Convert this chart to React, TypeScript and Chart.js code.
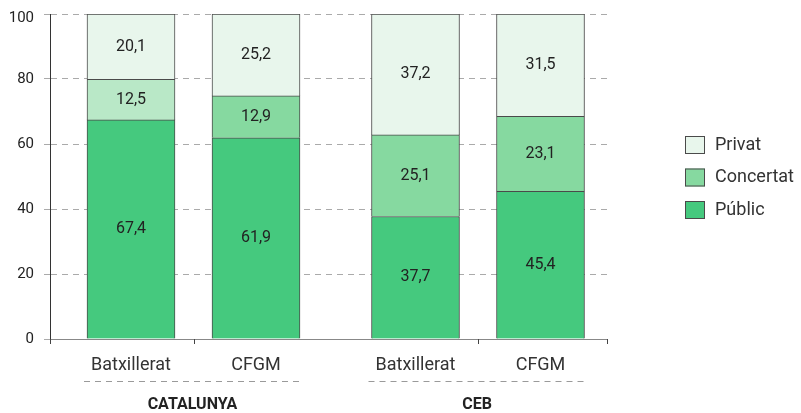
import React, { useEffect, useRef } from "react";
import { Chart, registerables } from "chart.js";
Chart.register(...registerables);

const groups = ["CATALUNYA", "CEB"];
const levels = ["Batxillerat", "CFGM"];
const seriesNames = ["Públic", "Concertat", "Privat"];
const publicValues = [67.4, 61.9, 37.7, 45.4];
const concertatValues = [12.5, 12.9, 25.1, 23.1];
const privatValues = [20.1, 25.2, 37.2, 31.5];
const yMin = 0;
const yMax = 100;
const yStep = 20;

const publicColor = "#45c97e";
const concertatColors = ["#b9e8c7", "#86d9a0", "#86d9a0", "#86d9a0"];
const privatColor = "#e8f6ec";
const borderCol = "#4a4a4a";

const GROUP_STEP = 2.276;
const X_PAD_LEFT = 0.648;
const X_PAD_RIGHT = 0.532;
const FONT = "Roboto, 'Noto Sans', sans-serif";

const bars = groups.flatMap((g, gi) =>
  levels.map((l, li) => ({ x: gi * GROUP_STEP + li, group: gi, level: l }))
);

const fmt = (v: number) => v.toFixed(1).replace(".", ",");

const overlayPlugin = {
  id: "overlay",
  afterDatasetsDraw(chart: any) {
    const ctx = chart.ctx;
    ctx.save();
    ctx.font = `16px ${FONT}`;
    ctx.fillStyle = "#222";
    ctx.textAlign = "center";
    ctx.textBaseline = "middle";
    chart.data.datasets.forEach((ds: any, di: number) => {
      const meta = chart.getDatasetMeta(di);
      meta.data.forEach((el: any, k: number) => {
        const v = ds.data[k].y;
        ctx.fillText(fmt(v), el.x, (el.y + el.base) / 2);
      });
    });
    ctx.restore();
  },
  afterDraw(chart: any) {
    const ctx = chart.ctx;
    const area = chart.chartArea;
    const xs = chart.scales.x;
    const ys = chart.scales.y;
    const meta = chart.getDatasetMeta(0);
    ctx.save();
    // y tick labels
    ctx.font = `15px ${FONT}`;
    ctx.fillStyle = "#222";
    ctx.textAlign = "right";
    ctx.textBaseline = "middle";
    ys.ticks.forEach((t: any) => {
      const py = ys.getPixelForValue(t.value);
      ctx.fillText(String(t.value), area.left - 16, Math.max(py, area.top + 4.5));
    });
    // x tick marks
    const tickXs = [area.left, area.right];
    groups.forEach((g, gi) => {
      const gb = bars.filter((b) => b.group === gi);
      const mid = gb.reduce((s, b) => s + b.x, 0) / gb.length;
      tickXs.push(xs.getPixelForValue(mid));
    });
    ctx.strokeStyle = "#444";
    ctx.lineWidth = 1;
    tickXs.forEach((tx) => {
      const px = Math.round(tx) + 0.5;
      ctx.beginPath();
      ctx.moveTo(px, area.bottom);
      ctx.lineTo(px, area.bottom + 5);
      ctx.stroke();
    });
    // group labels
    groups.forEach((g, gi) => {
      const els = bars
        .map((b, k) => ({ b, el: meta.data[k] }))
        .filter((o) => o.b.group === gi)
        .map((o) => o.el);
      const left = Math.min(...els.map((e: any) => e.x - e.width / 2)) - 3;
      const right = Math.max(...els.map((e: any) => e.x + e.width / 2)) + 1;
      const ly = Math.round(area.bottom + 42) + 0.5;
      ctx.strokeStyle = "#9a9a9a";
      ctx.setLineDash([6, 5]);
      ctx.beginPath();
      ctx.moveTo(left, ly);
      ctx.lineTo(right, ly);
      ctx.stroke();
      ctx.setLineDash([]);
      ctx.font = `bold 16px ${FONT}`;
      ctx.fillStyle = "#222";
      ctx.textAlign = "center";
      ctx.textBaseline = "middle";
      ctx.fillText(g, (left + right) / 2, area.bottom + 66);
    });
    // legend
    const legendItems = [
      { name: seriesNames[2], color: privatColor },
      { name: seriesNames[1], color: concertatColors[1] },
      { name: seriesNames[0], color: publicColor },
    ];
    const centerY = 177.5;
    const gap = 32.5;
    legendItems.forEach((it, i) => {
      const cy = centerY + (i - 1) * gap;
      ctx.fillStyle = it.color;
      ctx.fillRect(685, cy - 9, 20, 18);
      ctx.strokeStyle = borderCol;
      ctx.lineWidth = 1;
      ctx.strokeRect(685.5, cy - 8.5, 19, 17);
      ctx.fillStyle = "#333";
      ctx.font = `18px ${FONT}`;
      ctx.textAlign = "left";
      ctx.textBaseline = "middle";
      ctx.fillText(it.name, 715, cy);
    });
    ctx.restore();
  },
};

export default function App() {
  const ref = useRef<HTMLCanvasElement | null>(null);
  useEffect(() => {
    document.body.style.margin = "0";
    const mk = (vals: number[]) => vals.map((v, k) => ({ x: bars[k].x, y: v }));
    const chart = new Chart(ref.current as HTMLCanvasElement, {
      type: "bar",
      data: {
        datasets: [
          {
            label: seriesNames[0],
            data: mk(publicValues) as any,
            backgroundColor: publicColor,
            borderColor: borderCol,
            borderWidth: 1,
          },
          {
            label: seriesNames[1],
            data: mk(concertatValues) as any,
            backgroundColor: concertatColors,
            borderColor: borderCol,
            borderWidth: 1,
          },
          {
            label: seriesNames[2],
            data: mk(privatValues) as any,
            backgroundColor: privatColor,
            borderColor: borderCol,
            borderWidth: 1,
          },
        ],
      },
      options: {
        animation: false,
        responsive: false,
        maintainAspectRatio: false,
        barThickness: 88,
        layout: { padding: { top: 14, right: 194, bottom: 0, left: 0 } },
        plugins: { legend: { display: false }, tooltip: { enabled: false } },
        scales: {
          x: {
            type: "linear",
            stacked: true,
            offset: false,
            min: -X_PAD_LEFT,
            max: bars[bars.length - 1].x + X_PAD_RIGHT,
            afterBuildTicks: (s: any) => {
              s.ticks = bars.map((b) => ({ value: b.x }));
            },
            afterFit: (s: any) => {
              s.height = 74;
            },
            grid: { display: true, drawOnChartArea: false, drawTicks: false, offset: false },
            border: { color: "#888", width: 1 },
            ticks: {
              autoSkip: false,
              maxRotation: 0,
              padding: 16,
              color: "#333",
              font: { family: FONT, size: 18 },
              callback: (_v: any, i: number) => bars[i]?.level ?? "",
            },
          } as any,
          y: {
            stacked: true,
            min: yMin,
            max: yMax,
            afterFit: (s: any) => {
              s.width = 50;
            },
            grid: {
              color: "#aaaaaa",
              tickLength: 6,
              tickColor: "#aaaaaa",
            },
            border: { color: "#333", width: 1, dash: [6, 5] },
            ticks: {
              display: false,
              stepSize: yStep,
            },
          } as any,
        },
      } as any,
      plugins: [overlayPlugin],
    });
    return () => chart.destroy();
  }, []);
  return (
    <div style={{ width: 801, height: 413 }}>
      <canvas ref={ref} width={801} height={413} />
    </div>
  );
}
